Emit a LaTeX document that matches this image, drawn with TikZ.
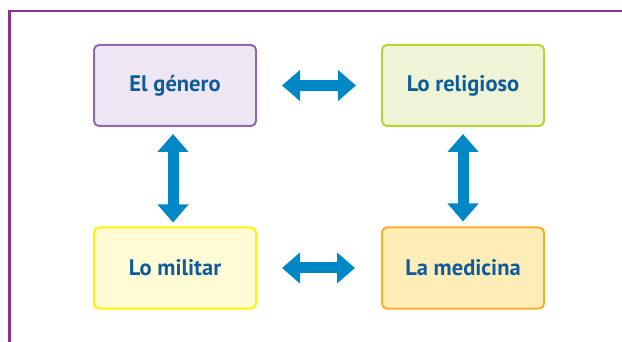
\documentclass[tikz,border=0pt]{standalone}
\usepackage{fontspec}
\setmainfont{PT Sans}
\usetikzlibrary{arrows.meta}
\definecolor{framec}{HTML}{8A3393}
\definecolor{txtc}{HTML}{0E5C9B}
\definecolor{arrc}{HTML}{0088C6}
\definecolor{gfill}{HTML}{EFE6F3}\definecolor{gdraw}{HTML}{9268AE}
\definecolor{rfill}{HTML}{F0F4D6}\definecolor{rdraw}{HTML}{B7D433}
\definecolor{mfill}{HTML}{FFFBD5}\definecolor{mdraw}{HTML}{FFF200}
\definecolor{dfill}{HTML}{FFEDB8}\definecolor{ddraw}{HTML}{F9B026}
\tikzset{
  box/.style={rounded corners=5pt, line width=2pt, minimum width=162pt, minimum height=81pt,
    text=txtc, font=\bfseries\fontsize{22.5}{26}\selectfont, inner sep=0pt},
  biarrow/.style={draw=arrc, line width=11pt,
    {Triangle[length=18pt,width=30pt]}-{Triangle[length=18pt,width=30pt]}},
}
\begin{document}
\begin{tikzpicture}[x=1pt,y=-1pt]
\useasboundingbox (0,0) rectangle (622,342);
\draw[framec, line width=2.5pt] (9.5,342) -- (9.5,11) -- (623,11);
\node[box, fill=gfill, draw=gdraw] (g) at (175,85.5) {El género};
\node[box, fill=rfill, draw=rdraw] (r) at (463,85.5) {Lo religioso};
\node[box, fill=mfill, draw=mdraw] (m) at (175,268) {Lo militar};
\node[box, fill=dfill, draw=ddraw] (d) at (463,268) {La medicina};
\draw[biarrow, shorten <=25pt, shorten >=25pt] (g.east) -- (r.west);
\draw[biarrow, shorten <=25pt, shorten >=26pt] (m.east) -- (d.west);
\draw[biarrow, shorten <=7pt, shorten >=4pt] ([xshift=-2pt]g.south) -- ([xshift=-2pt]m.north);
\draw[biarrow, shorten <=7pt, shorten >=5pt] (r.south) -- (d.north);
\end{tikzpicture}
\end{document}
